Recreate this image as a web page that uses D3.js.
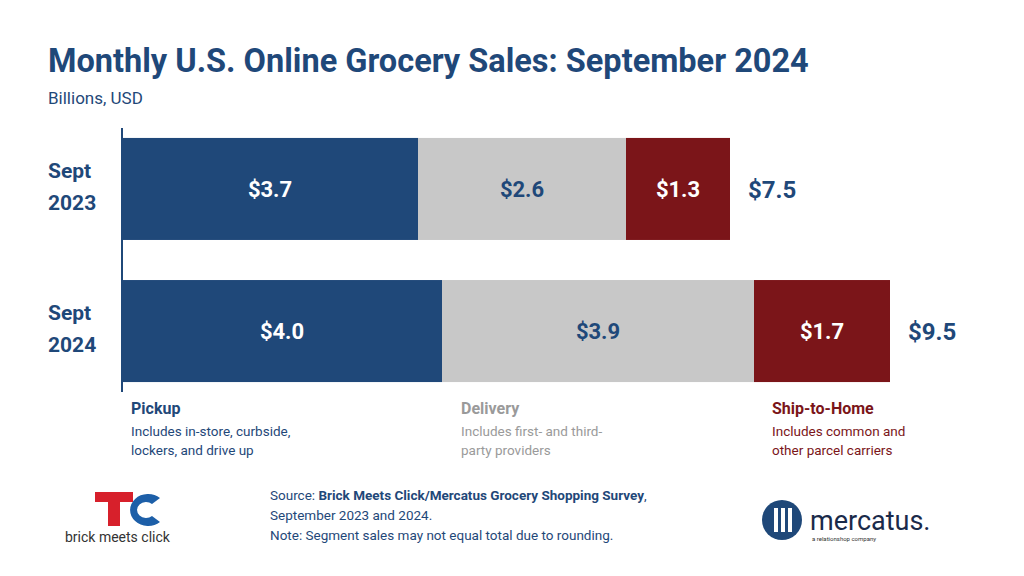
<!DOCTYPE html><html><head><meta charset="utf-8">
<script src="https://cdn.jsdelivr.net/npm/d3@7"></script>
<style>body{margin:0;background:#fff}text{font-family:Roboto,sans-serif}</style></head><body>
<svg id="c" width="1024" height="576"></svg>
<script>
const years=["Sept 2023","Sept 2024"];
const segments=["Pickup","Delivery","Ship-to-Home"];
const values=[[3.7,2.6,1.3],[4.0,3.9,1.7]];
const totals=[7.5,9.5];
const colors=["#1f4879","#c8c8c8","#7b1519"];
const labelColors=["#fff","#1f4879","#fff"];
const descs=[["Includes in-store, curbside,","lockers, and drive up"],["Includes first- and third-","party providers"],["Includes common and","other parcel carriers"]];
const descColor=["#1f4879","#9a9a9a","#7b1519"];
const svg=d3.select("#c");
const navy="#1f4879";
svg.append("text").attr("x",48).attr("y",72).attr("font-size",32.5).attr("font-weight",700).attr("fill",navy).text("Monthly U.S. Online Grocery Sales: September 2024");
svg.append("text").attr("x",48).attr("y",104).attr("font-size",17).attr("fill",navy).text("Billions, USD");
const x=d3.scaleLinear().domain([0,10]).range([122,922]);
const y=d3.scaleBand().domain(years).range([128,392]).paddingInner(0.282).paddingOuter(0.07);
years.forEach((yr,i)=>{
  let cum=0;
  const g=svg.append("g");
  values[i].forEach((v,j)=>{
    g.append("rect").attr("x",x(cum)).attr("y",y(yr)).attr("width",x(cum+v)-x(cum)).attr("height",y.bandwidth()).attr("fill",colors[j]);
    g.append("text").attr("x",(x(cum)+x(cum+v))/2).attr("y",y(yr)+y.bandwidth()/2+8).attr("text-anchor","middle").attr("font-size",22).attr("font-weight",700).attr("fill",labelColors[j]).text("$"+v.toFixed(1));
    cum+=v;
  });
  svg.append("text").attr("x",x(cum)+18).attr("y",y(yr)+y.bandwidth()/2+9).attr("font-size",24).attr("font-weight",700).attr("fill",navy).text("$"+totals[i].toFixed(1));
  const parts=yr.split(" ");
  svg.append("text").attr("x",48).attr("y",y(yr)+y.bandwidth()/2-11).attr("font-size",21).attr("font-weight",700).attr("fill",navy).text(parts[0]);
  svg.append("text").attr("x",48).attr("y",y(yr)+y.bandwidth()/2+21).attr("font-size",21).attr("font-weight",700).attr("fill",navy).text(parts[1]);
});
svg.append("line").attr("x1",122).attr("x2",122).attr("y1",128).attr("y2",392).attr("stroke",navy).attr("stroke-width",2);
const lx=[131,461,772];
segments.forEach((s,j)=>{
  svg.append("text").attr("x",lx[j]).attr("y",414).attr("font-size",16).attr("font-weight",700).attr("fill",descColor[j]).text(s);
  descs[j].forEach((d,k)=>svg.append("text").attr("x",lx[j]).attr("y",436+k*19).attr("font-size",13.5).attr("fill",descColor[j]).text(d));
});
const src=svg.append("text").attr("x",270).attr("y",500).attr("font-size",13.5).attr("fill",navy);
src.append("tspan").text("Source: ");
src.append("tspan").attr("font-weight",700).text("Brick Meets Click/Mercatus Grocery Shopping Survey");
src.append("tspan").text(",");
svg.append("text").attr("x",270).attr("y",520).attr("font-size",13.5).attr("fill",navy).text("September 2023 and 2024.");
svg.append("text").attr("x",270).attr("y",540).attr("font-size",13.5).attr("fill",navy).text("Note: Segment sales may not equal total due to rounding.");
svg.append("rect").attr("x",95).attr("y",492).attr("width",38).attr("height",10).attr("fill","#d7202b");
svg.append("rect").attr("x",108).attr("y",502).attr("width",12).attr("height",24).attr("fill","#d7202b");
svg.append("path").attr("d","M160,498 A18,16 0 1 0 160,522 L152,516 A9,8 0 1 1 152,504 Z").attr("fill","#1d5fa8");
svg.append("text").attr("x",65).attr("y",542).attr("font-size",14).attr("fill","#333").text("brick meets click");
svg.append("circle").attr("cx",782).attr("cy",520).attr("r",20).attr("fill",navy);
[774,781,788].forEach(cx=>svg.append("rect").attr("x",cx).attr("y",508).attr("width",4).attr("height",24).attr("fill","#fff"));
svg.append("text").attr("x",810).attr("y",530).attr("font-size",27).attr("fill","#1a2a4a").text("mercatus.");
svg.append("text").attr("x",812).attr("y",541).attr("font-size",6).attr("fill","#333").text("a relationshop company");
</script></body></html>
